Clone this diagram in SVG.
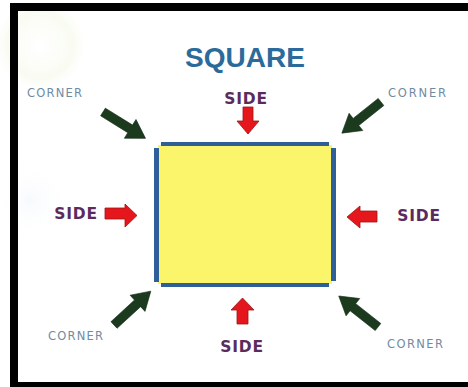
<svg xmlns="http://www.w3.org/2000/svg" width="468" height="387" viewBox="0 0 468 387">
<style>
.side{font-family:"DejaVu Sans","Verdana",sans-serif;font-weight:bold;font-size:15.5px;fill:#5a2b5c;letter-spacing:0.8px}
.corner{font-family:"DejaVu Sans","Verdana",sans-serif;font-size:11.5px;fill:#6f8ba3}
.title{font-family:"Liberation Sans",Arial,sans-serif;font-weight:bold;font-size:28px;fill:#2b6b9b}
.red{fill:#e5161c;stroke:#9c1414;stroke-width:0.8}
.green{fill:#1c3b1e;stroke:#132a14;stroke-width:0.6}
.edge{fill:#2f5f98}
</style>
<defs>
<path id="garrow" d="M0,-4.5 L32,-4.5 L32,-11 L50,0 L32,11 L32,4.5 L0,4.5 Z"/>
<radialGradient id="gl" cx="0.5" cy="0.5" r="0.5">
<stop offset="0" stop-color="#f6fbee" stop-opacity="0"/>
<stop offset="0.75" stop-color="#f2f8e4" stop-opacity="0.5"/>
<stop offset="1" stop-color="#f7fbee" stop-opacity="0"/>
</radialGradient>
<radialGradient id="bl" cx="0.5" cy="0.5" r="0.5">
<stop offset="0" stop-color="#f1f6fc" stop-opacity="0.6"/>
<stop offset="1" stop-color="#ffffff" stop-opacity="0"/>
</radialGradient>
</defs>
<rect width="468" height="387" fill="#ffffff"/>
<circle cx="40" cy="45" r="45" fill="url(#gl)"/>
<circle cx="30" cy="200" r="40" fill="url(#bl)"/>
<path d="M10,3 H468 V11 H18 V382 H468 V387 H10 Z" fill="#000000"/>

<g id="title"><text class="title" x="245" y="67" text-anchor="middle">SQUARE</text></g>

<g id="square">
<rect x="158" y="145" width="174" height="139" fill="#fbf56b"/>
<rect class="edge" x="161" y="142" width="168" height="4"/>
<rect class="edge" x="161" y="283" width="168" height="4"/>
<rect class="edge" x="154" y="148" width="5" height="134"/>
<rect class="edge" x="331" y="148" width="5" height="133"/>
</g>

<g id="side-top">
<text class="side" x="246" y="104" text-anchor="middle">SIDE</text>
</g>
<g id="side-left">
<text class="side" x="76" y="219" text-anchor="middle">SIDE</text>
</g>
<g id="side-right">
<text class="side" x="419" y="221" text-anchor="middle">SIDE</text>
</g>
<g id="side-bottom">
<text class="side" x="242" y="352" text-anchor="middle">SIDE</text>
</g>

<g id="corner-tl"><text class="corner" x="27" y="97" textLength="55">CORNER</text></g>
<g id="corner-tr"><text class="corner" x="388" y="97" textLength="58">CORNER</text></g>
<g id="corner-bl"><text class="corner" x="48" y="340" textLength="55">CORNER</text></g>
<g id="corner-br"><text class="corner" x="387" y="348" textLength="56">CORNER</text></g>

<g id="connectors">
<polygon class="red" points="243,107 253,107 253,121 259,121 248,134 237,121 243,121"/>
<polygon class="red" points="105,208 125,208 125,204 137,215.5 125,227 125,219 105,219"/>
<polygon class="red" points="377,211 360,211 360,206 347,217 360,228 360,222 377,222"/>
<polygon class="red" points="237,324 237,310 231,310 242.5,298 254,310 248,310 248,324"/>
<use href="#garrow" class="green" transform="translate(103,112) rotate(31.8)"/>
<use href="#garrow" class="green" transform="translate(381,102) rotate(141.5)"/>
<use href="#garrow" class="green" transform="translate(114,325) rotate(-42.6)"/>
<use href="#garrow" class="green" transform="translate(378,327) rotate(-141.7)"/>
</g>
</svg>
